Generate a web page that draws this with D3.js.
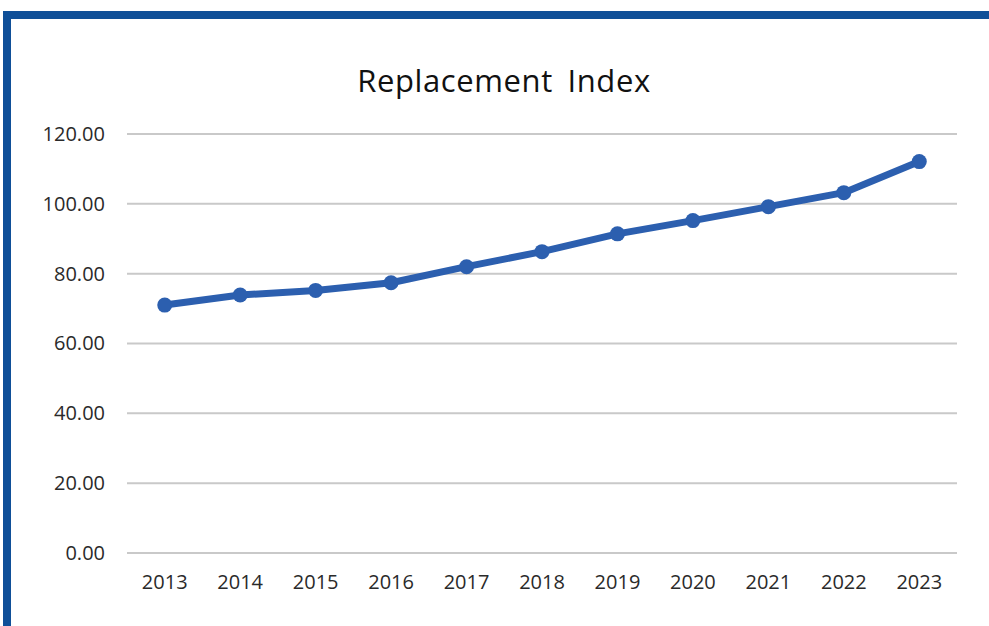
<!DOCTYPE html>
<html><head><meta charset="utf-8">
<script src="https://cdn.jsdelivr.net/npm/d3@7"></script>
<style>html,body{margin:0;padding:0;background:#fff;overflow:hidden}</style>
</head><body>
<svg id="c" width="989" height="626"></svg>
<script>
const years = ["2013","2014","2015","2016","2017","2018","2019","2020","2021","2022","2023"];
const values = [71.0, 73.9, 75.2, 77.4, 82.0, 86.3, 91.4, 95.2, 99.2, 103.2, 112.1];
const yTicks = [0, 20, 40, 60, 80, 100, 120];
const title = "Replacement Index";

const svg = d3.select("#c");
const font = "'Open Sans', 'Liberation Sans', sans-serif";
// frame
svg.append("rect").attr("x",0).attr("y",0).attr("width",989).attr("height",626).attr("fill","#fff");
svg.append("rect").attr("x",3).attr("y",11).attr("width",986).attr("height",8).attr("fill","#0f4f98");
svg.append("rect").attr("x",3).attr("y",11).attr("width",8).attr("height",615).attr("fill","#0f4f98");

const x = d3.scaleBand().domain(years).range([127,957]);
const y = d3.scaleLinear().domain([0,120]).range([553,134]);

const grid = svg.append("g");
grid.selectAll("line").data(yTicks).join("line")
  .attr("x1",127).attr("x2",957)
  .attr("y1",d=>y(d)).attr("y2",d=>y(d))
  .attr("stroke","#c9c9c9").attr("stroke-width",2);

const yAxis = svg.append("g").attr("transform","translate(115,0)")
  .call(d3.axisLeft(y).tickValues(yTicks).tickFormat(d3.format(".2f")).tickSize(0).tickPadding(0));
yAxis.select(".domain").remove();
yAxis.selectAll("text").attr("font-family",font).attr("font-size",20).attr("fill","#2a2a2a").attr("dx",-10);

const xAxis = svg.append("g").attr("transform","translate(0,553)")
  .call(d3.axisBottom(x).tickSize(0).tickPadding(22));
xAxis.select(".domain").remove();
xAxis.selectAll("text").attr("font-family",font).attr("font-size",20).attr("fill","#2a2a2a");

svg.append("text").attr("x",504).attr("y",92).attr("text-anchor","middle")
  .attr("font-family",font).attr("font-size",31).attr("letter-spacing",0.6).attr("word-spacing",6)
  .attr("fill","#111").text(title);

const pts = years.map((yr,i)=>[x(yr)+x.bandwidth()/2, y(values[i])]);
svg.append("path").attr("d", d3.line()(pts)).attr("fill","none")
  .attr("stroke","#2c5faf").attr("stroke-width",7).attr("stroke-linejoin","round");
svg.append("g").selectAll("circle").data(pts).join("circle")
  .attr("cx",d=>d[0]).attr("cy",d=>d[1]).attr("r",7.5).attr("fill","#2c5faf");
</script>
</body></html>
